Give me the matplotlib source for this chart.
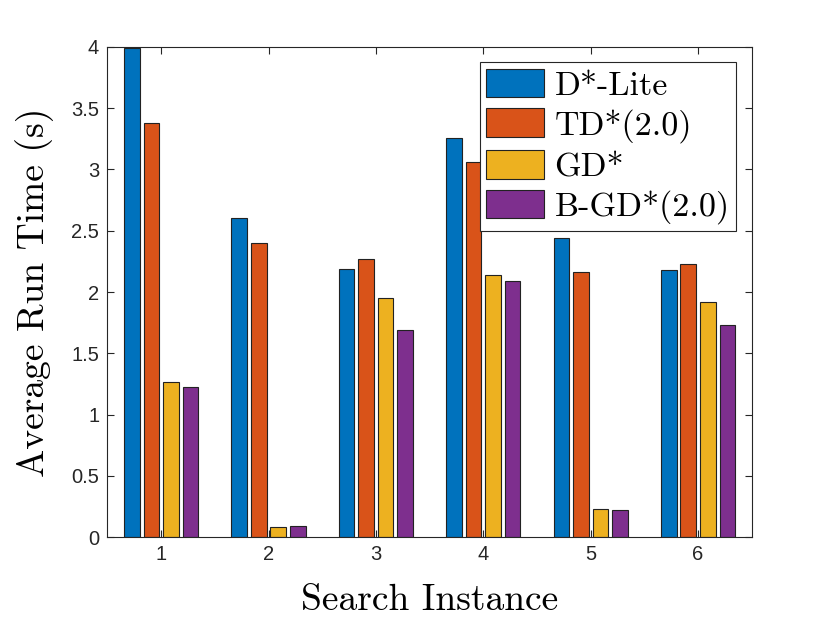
import matplotlib
matplotlib.use("Agg")
import matplotlib.pyplot as plt
import numpy as np

categories = [1, 2, 3, 4, 5, 6]
series_names = ["D*-Lite", "TD*(2.0)", "GD*", "B-GD*(2.0)"]
d_lite = [3.99, 2.60, 2.19, 3.26, 2.44, 2.18]
td_star = [3.38, 2.40, 2.27, 3.06, 2.165, 2.23]
gd_star = [1.264, 0.082, 1.95, 2.14, 0.231, 1.92]
bgd_star = [1.223, 0.087, 1.688, 2.09, 0.22, 1.728]
colors = ["#0072BD", "#D95319", "#EDB120", "#7E2F8E"]

fig = plt.figure(figsize=(8.3, 6.24), dpi=100)
ax = fig.add_axes([0.1295, 0.1394, 0.7762, 0.7853])

x = np.array(categories, dtype=float)
n = 4
group_w = min(0.8, n / (n + 1.5))
pitch = group_w / n
bar_w = pitch * 0.8
for i, (vals, name, c) in enumerate(zip([d_lite, td_star, gd_star, bgd_star], series_names, colors)):
    off = (i - (n - 1) / 2) * pitch
    ax.bar(x + off, vals, width=bar_w, color=c, edgecolor="#222222", linewidth=0.8, label=name, zorder=2)

ax.set_xlim(0.5, 6.5)
ax.set_ylim(0, 4)
ax.set_xticks(categories)
ax.set_yticks(np.arange(0, 4.01, 0.5))
ax.set_yticklabels(["0", "0.5", "1", "1.5", "2", "2.5", "3", "3.5", "4"])
ax.tick_params(direction="in", top=True, right=True, length=5, width=0.8, color="#262626",
               labelsize=14.5, labelcolor="#262626", pad=6)
for lab in ax.get_xticklabels() + ax.get_yticklabels():
    lab.set_fontfamily("Liberation Sans")
for s in ax.spines.values():
    s.set_color("#262626")
    s.set_linewidth(0.8)

ax.set_xlabel("Search Instance", fontfamily="cmr10", fontsize=27, labelpad=14)
ax.set_ylabel("Average Run Time (s)", fontfamily="cmr10", fontsize=27, labelpad=12)

leg = ax.legend(loc="upper right", prop={"family": "cmr10", "size": 24.5}, frameon=True,
                fancybox=False, edgecolor="#262626", framealpha=1, borderpad=0.2,
                handlelength=1.7, handleheight=0.9, handletextpad=0.3, labelspacing=0.22,
                borderaxespad=0.45)
leg.get_frame().set_linewidth(0.8)

fig.savefig("out.png", dpi=100)
